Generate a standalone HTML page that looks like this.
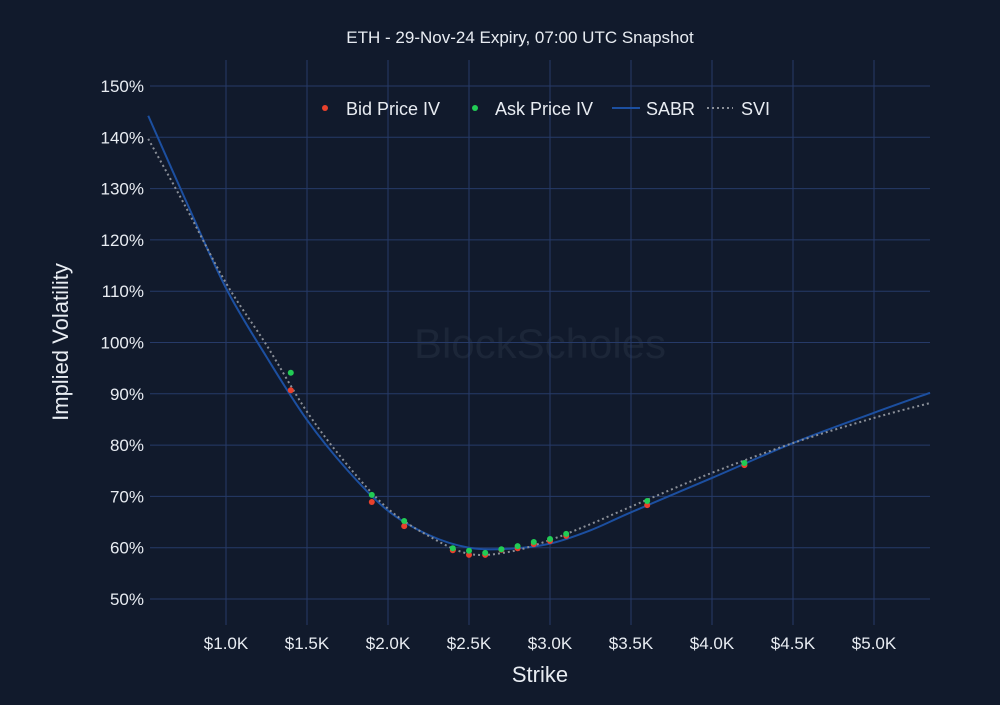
<!DOCTYPE html>
<html><head><meta charset="utf-8"><style>
body{margin:0;background:#111a2c;}
svg text{font-family:"Liberation Sans","DejaVu Sans",sans-serif;fill:#e8ecf2;}
</style></head><body>
<svg id="chart" width="1000" height="700" viewBox="0 0 1000 700" xmlns="http://www.w3.org/2000/svg">
<rect width="1000" height="700" fill="#111a2c"/>
<text x="520" y="43" text-anchor="middle" font-size="17">ETH - 29-Nov-24 Expiry, 07:00 UTC Snapshot</text>
<text x="540" y="358" text-anchor="middle" font-size="42" style="fill:#1c2638">BlockScholes</text>
<g id="grid"></g>
<g id="series"></g>
<text transform="translate(68,342) rotate(-90)" text-anchor="middle" font-size="22">Implied Volatility</text>
<text x="540" y="682" text-anchor="middle" font-size="22">Strike</text>
<g>
<circle cx="325" cy="108" r="3" fill="#e8412c"/>
<text x="346" y="115" font-size="18">Bid Price IV</text>
<circle cx="475" cy="108" r="3" fill="#22cc55"/>
<text x="495" y="115" font-size="18">Ask Price IV</text>
<line x1="612" y1="108" x2="640" y2="108" stroke="#1c4fa0" stroke-width="2"/>
<text x="646" y="115" font-size="18">SABR</text>
<line x1="707" y1="108" x2="733" y2="108" stroke="#8a8f98" stroke-width="2" stroke-dasharray="2,3"/>
<text x="741" y="115" font-size="18">SVI</text>
</g>
</svg>
<script>
const strikes=[1.4,1.9,2.1,2.4,2.5,2.6,2.7,2.8,2.9,3.0,3.1,3.6,4.2];
const bidIV=[90.7,68.9,64.2,59.5,58.6,58.6,59.6,59.9,60.7,61.3,62.3,68.3,76.1];
const askIV=[94.1,70.3,65.2,59.9,59.4,59.0,59.7,60.3,61.1,61.7,62.7,69.1,76.5];
const curveK=[0.52,0.75,1.0,1.25,1.5,1.75,2.0,2.25,2.5,2.75,3.0,3.25,3.5,4.0,4.5,5.0,5.346];
const sabrIV=[144.2,127.8,110.6,97.2,84.9,75.1,67.2,62.5,60.0,59.8,60.8,63.4,66.9,73.6,80.4,86.3,90.2];
const sviIV=[139.7,126.5,111.6,99.5,86.5,76.1,67.6,62.3,58.8,59.2,61.5,64.6,68.0,74.6,80.4,85.3,88.2];
const xTicks=[1,1.5,2,2.5,3,3.5,4,4.5,5];
const xTickLabels=["$1.0K","$1.5K","$2.0K","$2.5K","$3.0K","$3.5K","$4.0K","$4.5K","$5.0K"];
const yTicks=[50,60,70,80,90,100,110,120,130,140,150];

const L=150,R=930,T=60,B=625;
const xs=k=>226+(k-1)*162;
const ys=v=>599-(v-50)*5.13;
const NS="http://www.w3.org/2000/svg";
const grid=document.getElementById('grid'),ser=document.getElementById('series');
function mk(tag,attrs,parent){const e=document.createElementNS(NS,tag);for(const a in attrs)e.setAttribute(a,attrs[a]);parent.appendChild(e);return e;}
xTicks.forEach((k,i)=>{
 const l=mk('line',{x1:xs(k),x2:xs(k),y1:T,y2:B,stroke:'#263a68','stroke-width':1},grid);
 
 
 const t=mk('text',{x:xs(k),y:649,'text-anchor':'middle','font-size':17},grid);
 t.textContent=xTickLabels[i];
 
 
});
yTicks.forEach(v=>{
 const l=mk('line',{x1:L,x2:R,y1:ys(v),y2:ys(v),stroke:'#263a68','stroke-width':1},grid);
 
 
 const t=mk('text',{x:144,y:ys(v)+6,'text-anchor':'end','font-size':17},grid);
 t.textContent=v+'%';
 
 
});
function smooth(K,V){
 const p=K.map((k,i)=>[xs(k),ys(V[i])]);
 let d='M'+p[0][0]+','+p[0][1];
 for(let i=0;i<p.length-1;i++){
  const p0=p[i-1]||p[i],p1=p[i],p2=p[i+1],p3=p[i+2]||p2;
  const c1=[p1[0]+(p2[0]-p0[0])/6,p1[1]+(p2[1]-p0[1])/6];
  const c2=[p2[0]-(p3[0]-p1[0])/6,p2[1]-(p3[1]-p1[1])/6];
  d+=` C${c1[0]},${c1[1]} ${c2[0]},${c2[1]} ${p2[0]},${p2[1]}`;
 }
 return d;
}
const sabr=mk('path',{d:smooth(curveK,sabrIV),fill:'none',stroke:'#1c4fa0','stroke-width':2},ser);


const svi=mk('path',{d:smooth(curveK,sviIV),fill:'none',stroke:'#8a8f98','stroke-width':2,'stroke-dasharray':'2,3'},ser);


strikes.forEach((k,i)=>{
 const b=mk('circle',{cx:xs(k),cy:ys(bidIV[i]),r:3,fill:'#e8412c'},ser);
 
 
});
strikes.forEach((k,i)=>{
 const a=mk('circle',{cx:xs(k),cy:ys(askIV[i]),r:3,fill:'#22cc55'},ser);
 
 
});
</script>
</body></html>
